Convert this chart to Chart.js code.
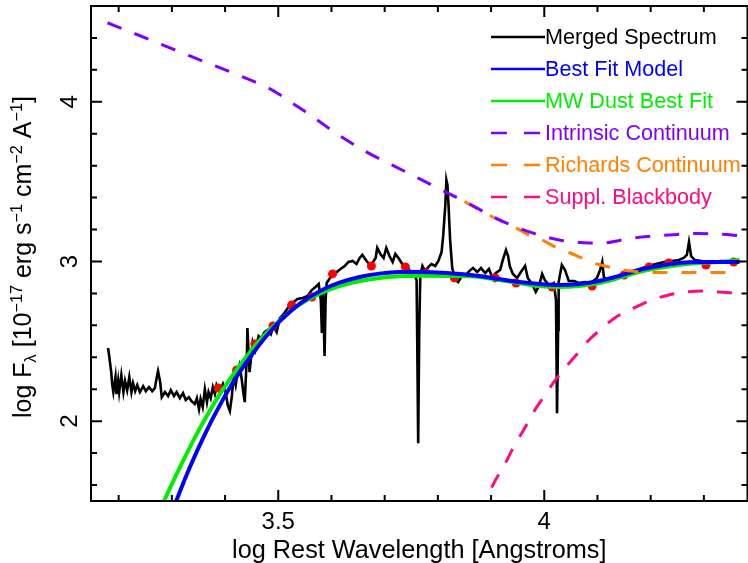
<!DOCTYPE html>
<html lang="en">
<head>
    <meta charset="UTF-8">
    <title>SED fit</title>
    <script src="https://cdn.jsdelivr.net/npm/chart.js@4.4.1/dist/chart.umd.min.js"></script>
    <style>
        html, body { margin: 0; padding: 0; overflow: hidden; background: #fff; }
        #wrap { width: 752px; height: 563px; }
    </style>
</head>
<body>
<div id="wrap"><canvas id="sed" width="752" height="563"></canvas></div>
<script>
// log rest wavelength / log flux pairs for each curve
var spectrumWave = [
    3.180,3.182,3.186,3.188,3.190,3.194,3.196,3.199,3.201,3.205,
    3.209,3.212,3.216,3.220,3.224,3.227,3.231,3.235,3.240,3.246,
    3.251,3.257,3.263,3.268,3.272,3.274,3.278,3.281,3.287,3.293,
    3.298,3.304,3.309,3.315,3.321,3.326,3.332,3.337,3.343,3.347,
    3.351,3.354,3.358,3.362,3.366,3.369,3.373,3.377,3.381,3.384,
    3.390,3.396,3.401,3.405,3.409,3.413,3.416,3.420,3.424,3.427,
    3.431,3.435,3.437,3.441,3.442,3.446,3.452,3.457,3.463,3.468,
    3.474,3.480,3.486,3.491,3.497,3.503,3.510,3.518,3.527,3.536,
    3.546,3.555,3.563,3.570,3.576,3.580,3.582,3.584,3.587,3.589,
    3.591,3.597,3.602,3.610,3.617,3.625,3.632,3.640,3.647,3.653,
    3.658,3.666,3.671,3.677,3.683,3.686,3.692,3.698,3.703,3.709,
    3.715,3.720,3.726,3.733,3.741,3.748,3.756,3.760,3.761,3.763,
    3.765,3.767,3.771,3.776,3.782,3.788,3.795,3.801,3.807,3.810,
    3.814,3.816,3.818,3.820,3.823,3.827,3.833,3.838,3.844,3.851,
    3.859,3.866,3.874,3.881,3.889,3.896,3.902,3.909,3.917,3.922,
    3.928,3.932,3.935,3.941,3.949,3.956,3.964,3.969,3.977,3.984,
    3.990,3.996,4.001,4.007,4.012,4.018,4.022,4.024,4.026,4.027,
    4.033,4.039,4.046,4.056,4.065,4.076,4.088,4.099,4.105,4.109,
    4.112,4.122,4.135,4.150,4.165,4.180,4.195,4.210,4.225,4.240,
    4.253,4.262,4.268,4.272,4.276,4.283,4.296,4.313,4.332,4.350,4.367
];
var spectrumFlux = [
    2.458,2.414,2.307,2.226,2.182,2.276,2.169,2.251,2.182,2.288,
    2.182,2.251,2.194,2.276,2.182,2.238,2.188,2.226,2.182,2.219,
    2.188,2.213,2.188,2.207,2.282,2.313,2.245,2.150,2.182,2.157,
    2.194,2.157,2.182,2.144,2.176,2.132,2.150,2.125,2.107,2.144,
    2.075,2.138,2.088,2.200,2.119,2.182,2.144,2.213,2.169,2.226,
    2.182,2.232,2.182,2.100,2.063,2.163,2.288,2.226,2.320,2.351,
    2.270,2.163,2.119,2.414,2.583,2.307,2.495,2.445,2.533,2.520,
    2.558,2.571,2.545,2.596,2.558,2.646,2.671,2.708,2.740,2.765,
    2.771,2.784,2.821,2.840,2.859,2.759,2.552,2.821,2.408,2.759,
    2.865,2.896,2.922,2.934,2.953,2.972,2.997,3.003,2.984,3.022,
    3.041,3.003,2.984,2.991,3.022,3.085,3.047,3.022,3.085,3.034,
    2.997,3.047,3.022,2.984,2.959,2.940,2.915,2.884,2.571,1.862,
    2.571,2.915,2.972,2.940,2.965,2.984,2.972,3.003,3.060,3.160,
    3.354,3.511,3.480,3.354,3.135,2.959,2.884,2.871,2.903,2.909,
    2.940,2.959,2.934,2.959,2.928,2.953,2.903,2.928,2.947,3.009,
    3.072,3.034,2.972,2.922,2.897,2.934,2.972,2.897,2.859,2.809,
    2.846,2.922,2.884,2.859,2.853,2.865,2.759,2.050,2.571,2.871,
    2.978,2.947,2.878,2.878,2.865,2.871,2.865,2.897,2.947,2.997,
    2.903,2.878,2.903,2.922,2.934,2.953,2.972,2.984,2.997,3.003,
    3.009,3.022,3.041,3.122,3.034,3.009,3.003,2.997,3.003,2.997,3.003
];

var bestFitWave = [3.297,3.308,3.334,3.362,3.390,3.418,3.447,3.475,3.503,3.540,3.578,3.615,3.653,
    3.690,3.728,3.765,3.816,3.878,3.915,3.953,3.990,4.028,4.065,4.103,4.140,4.178,4.215,4.253,
    4.290,4.328,4.367];
var bestFitFlux = [1.398,1.498,1.713,1.918,2.099,2.259,2.400,2.522,2.626,2.735,2.814,2.867,2.903,
    2.924,2.934,2.934,2.928,2.909,2.890,2.871,2.859,2.853,2.859,2.878,2.909,2.947,2.972,2.991,
    2.997,2.997,2.997];

var mwDustWave = [3.272,3.285,3.316,3.353,3.390,3.428,3.465,3.503,3.540,3.578,3.615,3.653,3.690,
    3.728,3.765,3.816,3.878,3.915,3.953,3.990,4.028,4.065,4.103,4.140,4.178,4.215,4.253,4.290,
    4.328,4.367];
var mwDustFlux = [1.398,1.498,1.717,1.958,2.168,2.350,2.507,2.632,2.730,2.799,2.846,2.878,2.897,
    2.907,2.910,2.909,2.903,2.884,2.865,2.846,2.840,2.846,2.865,2.897,2.934,2.959,2.978,2.991,
    2.997,3.009];

var intrinsicWave = [3.179,3.222,3.278,3.334,3.391,3.447,3.479,3.503,3.527,3.554,3.578,3.602,3.629,
    3.657,3.685,3.719,3.766,3.809,3.835,3.863,3.887,3.916,3.944,3.972,4.000,4.028,4.056,4.084,
    4.112,4.141,4.178,4.206,4.234,4.262,4.291,4.322,4.352,4.367];
var intrinsicFlux = [4.495,4.438,4.363,4.287,4.212,4.137,4.091,4.044,3.991,3.931,3.875,3.818,3.759,
    3.702,3.652,3.596,3.517,3.445,3.401,3.354,3.310,3.260,3.220,3.185,3.157,3.135,3.122,3.116,
    3.116,3.132,3.151,3.160,3.166,3.172,3.176,3.172,3.166,3.160];

var richardsWave = [3.850,3.863,3.887,3.916,3.944,3.968,3.996,4.022,4.051,4.075,4.103,4.131,4.163,
    4.197,4.253,4.309,4.367];
var richardsFlux = [3.376,3.351,3.307,3.257,3.216,3.172,3.135,3.088,3.050,3.016,2.981,2.959,2.940,
    2.931,2.931,2.931,2.931];

var blackbodyWave = [3.885,3.891,3.906,3.924,3.943,3.962,3.981,4.000,4.018,4.037,4.060,4.084,4.109,
    4.135,4.168,4.202,4.234,4.266,4.296,4.328,4.352,4.369];
var blackbodyFlux = [1.410,1.498,1.617,1.718,1.843,1.950,2.063,2.157,2.245,2.326,2.414,2.508,2.583,
    2.652,2.708,2.759,2.790,2.809,2.815,2.809,2.803,2.784];

// continuum windows used in the fit
var photWave = [3.387,3.422,3.456,3.490,3.525,3.563,3.602,3.675,3.739,3.778,3.831,3.908,3.947,
    4.015,4.090,4.150,4.197,4.234,4.304,4.356];
var photFlux = [2.207,2.320,2.483,2.596,2.727,2.777,2.922,2.972,2.966,2.928,2.897,2.897,2.865,
    2.840,2.846,2.915,2.966,2.991,2.978,2.997];

var seriesNames = ['Merged Spectrum', 'Best Fit Model', 'MW Dust Best Fit',
    'Intrinsic Continuum', 'Richards Continuum', 'Suppl. Blackbody'];

var xRange = [3.148, 4.382];
var yRange = [1.5, 4.6];
var xTickLabels = [3.5, 4];
var yTickLabels = [2, 3, 4];
var xMinorTicks = [3.2, 3.3, 3.4, 3.6, 3.7, 3.8, 3.9, 4.1, 4.2, 4.3];
var yMinorTicks = [1.6, 1.8, 2.2, 2.4, 2.6, 2.8, 3.2, 3.4, 3.6, 3.8, 4.2, 4.4];

var FONT = '"Liberation Sans", Arial, Helvetica, sans-serif';

function pairs(xs, ys) {
    var out = [];
    for (var i = 0; i < Math.min(xs.length, ys.length); i++) {
        out.push({x: xs[i], y: ys[i]});
    }
    return out;
}

function curve(label, xs, ys, color, width, dashed, order) {
    return {
        label: label,
        data: pairs(xs, ys),
        showLine: true,
        borderColor: color,
        backgroundColor: color,
        borderWidth: width,
        borderDash: dashed ? [15, 14] : [],
        pointRadius: 0,
        cubicInterpolationMode: 'monotone',
        fill: false,
        order: order
    };
}

var datasets = [
    curve(seriesNames[3], intrinsicWave, intrinsicFlux, '#8000ff', 3, true, 1),
    curve(seriesNames[4], richardsWave, richardsFlux, '#ff8000', 3, true, 2),
    curve(seriesNames[5], blackbodyWave, blackbodyFlux, '#ff0a80', 3, true, 1),
    curve(seriesNames[1], bestFitWave, bestFitFlux, '#0000ff', 4, false, 3),
    curve(seriesNames[2], mwDustWave, mwDustFlux, '#00ee00', 4, false, 4),
    {
        label: '',
        data: pairs(photWave, photFlux),
        showLine: false,
        pointRadius: 4.5,
        pointBorderWidth: 0,
        backgroundColor: '#ff0000',
        borderColor: '#ff0000',
        order: 5
    },
    {
        label: seriesNames[0],
        data: pairs(spectrumWave, spectrumFlux),
        showLine: true,
        borderColor: '#000000',
        backgroundColor: '#000000',
        borderWidth: 2.6,
        pointRadius: 0,
        tension: 0,
        order: 6
    }
];

// draws text with super/subscript pieces, starting at x0 on the baseline
function richWidth(ctx, parts, size) {
    var w = 0;
    parts.forEach(function (p) {
        ctx.font = (p[1] ? size * 0.65 : size) + 'px ' + FONT;
        w += ctx.measureText(p[0]).width;
    });
    return w;
}
function drawRich(ctx, parts, size, x0) {
    var x = x0;
    parts.forEach(function (p) {
        var s = p[1] ? size * 0.65 : size;
        var dy = p[1] === 'sup' ? -size * 0.38 : (p[1] === 'sub' ? size * 0.2 : 0);
        ctx.font = s + 'px ' + FONT;
        ctx.fillText(p[0], x, dy);
        x += ctx.measureText(p[0]).width;
    });
}

var yTitle = [['log F'], ['\u03bb', 'sub'], [' [10'], ['\u221217', 'sup'], [' erg s'], ['\u22121', 'sup'],
    [' cm'], ['\u22122', 'sup'], [' A'], ['\u22121', 'sup'], [']']];
var xTitle = 'log Rest Wavelength [Angstroms]';

var framePlugin = {
    id: 'frame',
    afterDraw: function (chart) {
        var ctx = chart.ctx, a = chart.chartArea;
        var xs = chart.scales.x, ys = chart.scales.y;
        ctx.save();
        ctx.strokeStyle = '#000';
        ctx.lineWidth = 2;
        ctx.strokeRect(a.left, a.top, a.right - a.left, a.bottom - a.top);

        function xTick(v, len) {
            var p = xs.getPixelForValue(v);
            ctx.beginPath();
            ctx.moveTo(p, a.bottom); ctx.lineTo(p, a.bottom - len);
            ctx.moveTo(p, a.top); ctx.lineTo(p, a.top + len);
            ctx.stroke();
        }
        function yTick(v, len) {
            var p = ys.getPixelForValue(v);
            ctx.beginPath();
            ctx.moveTo(a.left, p); ctx.lineTo(a.left + len, p);
            ctx.moveTo(a.right, p); ctx.lineTo(a.right - len, p);
            ctx.stroke();
        }
        xMinorTicks.forEach(function (v) { xTick(v, 6); });
        xTickLabels.forEach(function (v) { xTick(v, 11); });
        yMinorTicks.forEach(function (v) { yTick(v, 6); });
        yTickLabels.forEach(function (v) { yTick(v, 11); });

        ctx.fillStyle = '#000';
        ctx.font = '24px ' + FONT;
        ctx.textAlign = 'center';
        ctx.textBaseline = 'alphabetic';
        xTickLabels.forEach(function (v) {
            ctx.fillText(String(v), xs.getPixelForValue(v), a.bottom + 28);
        });
        yTickLabels.forEach(function (v) {
            ctx.save();
            ctx.translate(a.left - 14, ys.getPixelForValue(v));
            ctx.rotate(-Math.PI / 2);
            ctx.fillText(String(v), 0, 0);
            ctx.restore();
        });

        ctx.font = '25.3px ' + FONT;
        ctx.fillText(xTitle, (a.left + a.right) / 2, a.bottom + 57);

        ctx.save();
        ctx.textAlign = 'left';
        ctx.translate(a.left - 60, 257);
        ctx.rotate(-Math.PI / 2);
        var w = richWidth(ctx, yTitle, 25);
        drawRich(ctx, yTitle, 25, -w / 2);
        ctx.restore();

        // legend, top right inside the frame
        ctx.textAlign = 'left';
        ctx.textBaseline = 'middle';
        ctx.font = '21.6px ' + FONT;
        var lx = a.left + 400;
        seriesNames.forEach(function (name, i) {
            var ds = chart.data.datasets.filter(function (d) { return d.label === name; })[0];
            var ly = a.top + 31 + i * 32;
            ctx.strokeStyle = ds.borderColor;
            ctx.lineWidth = 2.5;
            ctx.beginPath();
            if (ds.borderDash && ds.borderDash.length) {
                ctx.setLineDash([16, 17]);
                ctx.moveTo(lx, ly); ctx.lineTo(lx + 49, ly);
            } else {
                ctx.setLineDash([]);
                ctx.moveTo(lx, ly); ctx.lineTo(lx + 54, ly);
            }
            ctx.stroke();
            ctx.setLineDash([]);
            ctx.fillStyle = ds.borderColor;
            ctx.fillText(name, lx + 54, ly + 1);
        });
        ctx.restore();
    }
};

new Chart(document.getElementById('sed').getContext('2d'), {
    type: 'scatter',
    data: {datasets: datasets},
    options: {
        responsive: false,
        animation: false,
        devicePixelRatio: 1,
        layout: {padding: {left: 91, top: 6, right: 3, bottom: 62}},
        plugins: {legend: {display: false}, tooltip: {enabled: false}},
        scales: {
            x: {type: 'linear', min: xRange[0], max: xRange[1], display: false},
            y: {type: 'linear', min: yRange[0], max: yRange[1], display: false}
        }
    },
    plugins: [framePlugin]
});
</script>
</body>
</html>
